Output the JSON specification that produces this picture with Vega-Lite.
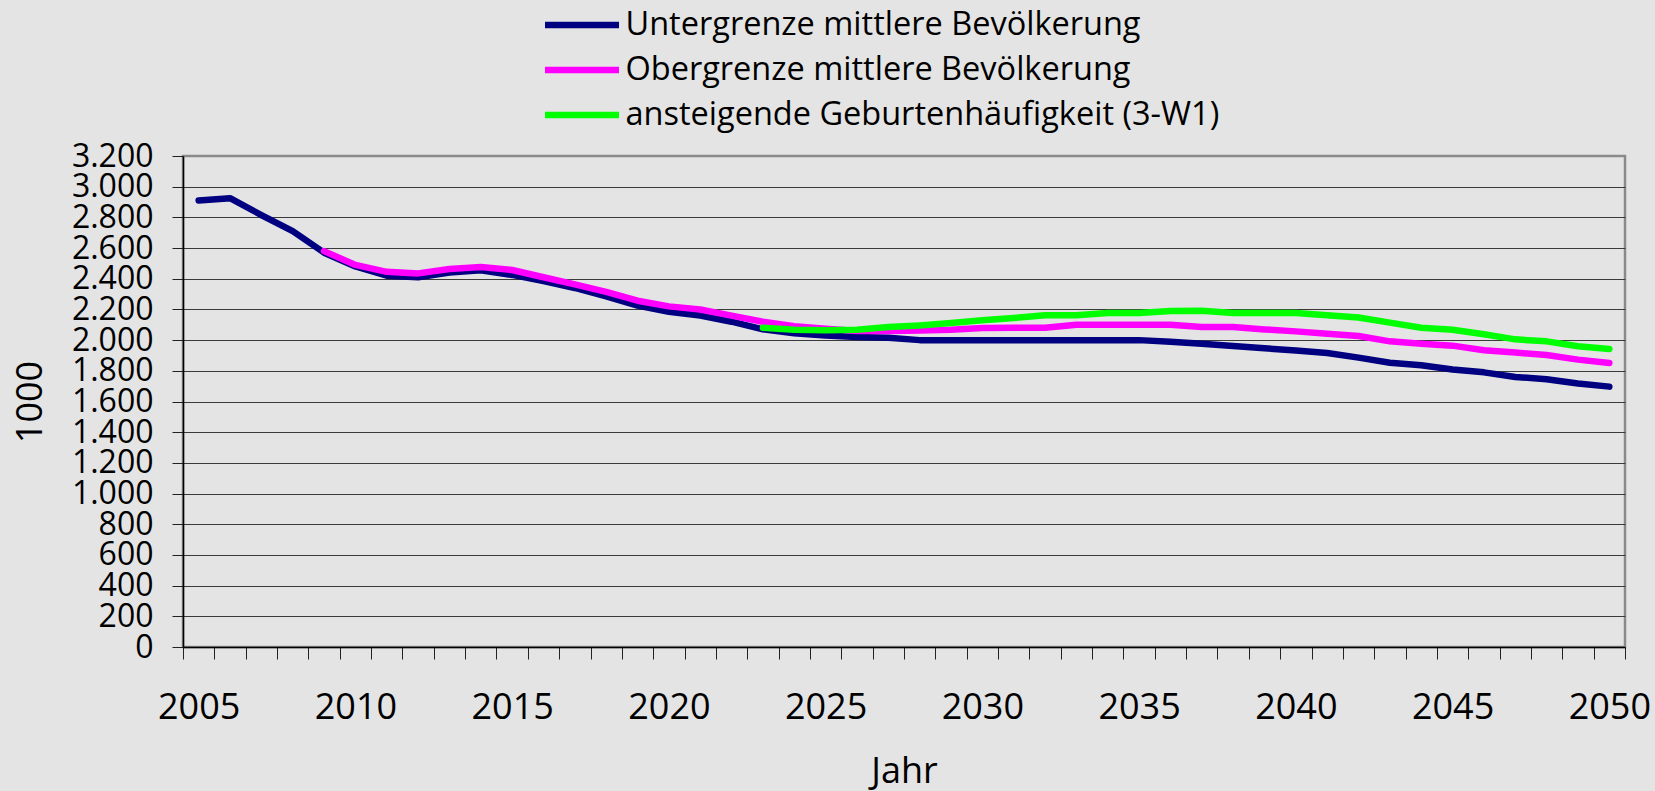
{
  "$schema": "https://vega.github.io/schema/vega-lite/v6.json",
  "width": 1442,
  "height": 491,
  "autosize": {"type": "none"},
  "padding": {"left": 183, "top": 156, "right": 30, "bottom": 144},
  "background": "#e4e4e4",
  "config": {
    "font": "Open Sans",
    "view": {"stroke": "#8a8a8a", "strokeWidth": 2.5},
    "legend": {"padding": 0}
  },
  "data": {
    "values": [
      {"Jahr": 2005, "Wert": 2910, "Reihe": "Untergrenze mittlere Bevölkerung"},
      {"Jahr": 2006, "Wert": 2925, "Reihe": "Untergrenze mittlere Bevölkerung"},
      {"Jahr": 2007, "Wert": 2815, "Reihe": "Untergrenze mittlere Bevölkerung"},
      {"Jahr": 2008, "Wert": 2710, "Reihe": "Untergrenze mittlere Bevölkerung"},
      {"Jahr": 2009, "Wert": 2570, "Reihe": "Untergrenze mittlere Bevölkerung"},
      {"Jahr": 2010, "Wert": 2480, "Reihe": "Untergrenze mittlere Bevölkerung"},
      {"Jahr": 2011, "Wert": 2420, "Reihe": "Untergrenze mittlere Bevölkerung"},
      {"Jahr": 2012, "Wert": 2410, "Reihe": "Untergrenze mittlere Bevölkerung"},
      {"Jahr": 2013, "Wert": 2440, "Reihe": "Untergrenze mittlere Bevölkerung"},
      {"Jahr": 2014, "Wert": 2455, "Reihe": "Untergrenze mittlere Bevölkerung"},
      {"Jahr": 2015, "Wert": 2425, "Reihe": "Untergrenze mittlere Bevölkerung"},
      {"Jahr": 2016, "Wert": 2385, "Reihe": "Untergrenze mittlere Bevölkerung"},
      {"Jahr": 2017, "Wert": 2340, "Reihe": "Untergrenze mittlere Bevölkerung"},
      {"Jahr": 2018, "Wert": 2285, "Reihe": "Untergrenze mittlere Bevölkerung"},
      {"Jahr": 2019, "Wert": 2225, "Reihe": "Untergrenze mittlere Bevölkerung"},
      {"Jahr": 2020, "Wert": 2185, "Reihe": "Untergrenze mittlere Bevölkerung"},
      {"Jahr": 2021, "Wert": 2160, "Reihe": "Untergrenze mittlere Bevölkerung"},
      {"Jahr": 2022, "Wert": 2120, "Reihe": "Untergrenze mittlere Bevölkerung"},
      {"Jahr": 2023, "Wert": 2070, "Reihe": "Untergrenze mittlere Bevölkerung"},
      {"Jahr": 2024, "Wert": 2045, "Reihe": "Untergrenze mittlere Bevölkerung"},
      {"Jahr": 2025, "Wert": 2030, "Reihe": "Untergrenze mittlere Bevölkerung"},
      {"Jahr": 2026, "Wert": 2020, "Reihe": "Untergrenze mittlere Bevölkerung"},
      {"Jahr": 2027, "Wert": 2015, "Reihe": "Untergrenze mittlere Bevölkerung"},
      {"Jahr": 2028, "Wert": 2000, "Reihe": "Untergrenze mittlere Bevölkerung"},
      {"Jahr": 2029, "Wert": 2000, "Reihe": "Untergrenze mittlere Bevölkerung"},
      {"Jahr": 2030, "Wert": 2000, "Reihe": "Untergrenze mittlere Bevölkerung"},
      {"Jahr": 2031, "Wert": 2000, "Reihe": "Untergrenze mittlere Bevölkerung"},
      {"Jahr": 2032, "Wert": 2000, "Reihe": "Untergrenze mittlere Bevölkerung"},
      {"Jahr": 2033, "Wert": 2000, "Reihe": "Untergrenze mittlere Bevölkerung"},
      {"Jahr": 2034, "Wert": 2000, "Reihe": "Untergrenze mittlere Bevölkerung"},
      {"Jahr": 2035, "Wert": 2000, "Reihe": "Untergrenze mittlere Bevölkerung"},
      {"Jahr": 2036, "Wert": 1990, "Reihe": "Untergrenze mittlere Bevölkerung"},
      {"Jahr": 2037, "Wert": 1977, "Reihe": "Untergrenze mittlere Bevölkerung"},
      {"Jahr": 2038, "Wert": 1962, "Reihe": "Untergrenze mittlere Bevölkerung"},
      {"Jahr": 2039, "Wert": 1947, "Reihe": "Untergrenze mittlere Bevölkerung"},
      {"Jahr": 2040, "Wert": 1932, "Reihe": "Untergrenze mittlere Bevölkerung"},
      {"Jahr": 2041, "Wert": 1916, "Reihe": "Untergrenze mittlere Bevölkerung"},
      {"Jahr": 2042, "Wert": 1886, "Reihe": "Untergrenze mittlere Bevölkerung"},
      {"Jahr": 2043, "Wert": 1853, "Reihe": "Untergrenze mittlere Bevölkerung"},
      {"Jahr": 2044, "Wert": 1836, "Reihe": "Untergrenze mittlere Bevölkerung"},
      {"Jahr": 2045, "Wert": 1808, "Reihe": "Untergrenze mittlere Bevölkerung"},
      {"Jahr": 2046, "Wert": 1790, "Reihe": "Untergrenze mittlere Bevölkerung"},
      {"Jahr": 2047, "Wert": 1760, "Reihe": "Untergrenze mittlere Bevölkerung"},
      {"Jahr": 2048, "Wert": 1745, "Reihe": "Untergrenze mittlere Bevölkerung"},
      {"Jahr": 2049, "Wert": 1717, "Reihe": "Untergrenze mittlere Bevölkerung"},
      {"Jahr": 2050, "Wert": 1697, "Reihe": "Untergrenze mittlere Bevölkerung"},
      {"Jahr": 2009, "Wert": 2580, "Reihe": "Obergrenze mittlere Bevölkerung"},
      {"Jahr": 2010, "Wert": 2490, "Reihe": "Obergrenze mittlere Bevölkerung"},
      {"Jahr": 2011, "Wert": 2445, "Reihe": "Obergrenze mittlere Bevölkerung"},
      {"Jahr": 2012, "Wert": 2435, "Reihe": "Obergrenze mittlere Bevölkerung"},
      {"Jahr": 2013, "Wert": 2463, "Reihe": "Obergrenze mittlere Bevölkerung"},
      {"Jahr": 2014, "Wert": 2476, "Reihe": "Obergrenze mittlere Bevölkerung"},
      {"Jahr": 2015, "Wert": 2457, "Reihe": "Obergrenze mittlere Bevölkerung"},
      {"Jahr": 2016, "Wert": 2410, "Reihe": "Obergrenze mittlere Bevölkerung"},
      {"Jahr": 2017, "Wert": 2363, "Reihe": "Obergrenze mittlere Bevölkerung"},
      {"Jahr": 2018, "Wert": 2315, "Reihe": "Obergrenze mittlere Bevölkerung"},
      {"Jahr": 2019, "Wert": 2257, "Reihe": "Obergrenze mittlere Bevölkerung"},
      {"Jahr": 2020, "Wert": 2220, "Reihe": "Obergrenze mittlere Bevölkerung"},
      {"Jahr": 2021, "Wert": 2200, "Reihe": "Obergrenze mittlere Bevölkerung"},
      {"Jahr": 2022, "Wert": 2160, "Reihe": "Obergrenze mittlere Bevölkerung"},
      {"Jahr": 2023, "Wert": 2120, "Reihe": "Obergrenze mittlere Bevölkerung"},
      {"Jahr": 2024, "Wert": 2090, "Reihe": "Obergrenze mittlere Bevölkerung"},
      {"Jahr": 2025, "Wert": 2075, "Reihe": "Obergrenze mittlere Bevölkerung"},
      {"Jahr": 2026, "Wert": 2060, "Reihe": "Obergrenze mittlere Bevölkerung"},
      {"Jahr": 2027, "Wert": 2060, "Reihe": "Obergrenze mittlere Bevölkerung"},
      {"Jahr": 2028, "Wert": 2062, "Reihe": "Obergrenze mittlere Bevölkerung"},
      {"Jahr": 2029, "Wert": 2068, "Reihe": "Obergrenze mittlere Bevölkerung"},
      {"Jahr": 2030, "Wert": 2079, "Reihe": "Obergrenze mittlere Bevölkerung"},
      {"Jahr": 2031, "Wert": 2081, "Reihe": "Obergrenze mittlere Bevölkerung"},
      {"Jahr": 2032, "Wert": 2081, "Reihe": "Obergrenze mittlere Bevölkerung"},
      {"Jahr": 2033, "Wert": 2100, "Reihe": "Obergrenze mittlere Bevölkerung"},
      {"Jahr": 2034, "Wert": 2100, "Reihe": "Obergrenze mittlere Bevölkerung"},
      {"Jahr": 2035, "Wert": 2100, "Reihe": "Obergrenze mittlere Bevölkerung"},
      {"Jahr": 2036, "Wert": 2100, "Reihe": "Obergrenze mittlere Bevölkerung"},
      {"Jahr": 2037, "Wert": 2085, "Reihe": "Obergrenze mittlere Bevölkerung"},
      {"Jahr": 2038, "Wert": 2085, "Reihe": "Obergrenze mittlere Bevölkerung"},
      {"Jahr": 2039, "Wert": 2070, "Reihe": "Obergrenze mittlere Bevölkerung"},
      {"Jahr": 2040, "Wert": 2057, "Reihe": "Obergrenze mittlere Bevölkerung"},
      {"Jahr": 2041, "Wert": 2042, "Reihe": "Obergrenze mittlere Bevölkerung"},
      {"Jahr": 2042, "Wert": 2027, "Reihe": "Obergrenze mittlere Bevölkerung"},
      {"Jahr": 2043, "Wert": 1992, "Reihe": "Obergrenze mittlere Bevölkerung"},
      {"Jahr": 2044, "Wert": 1977, "Reihe": "Obergrenze mittlere Bevölkerung"},
      {"Jahr": 2045, "Wert": 1964, "Reihe": "Obergrenze mittlere Bevölkerung"},
      {"Jahr": 2046, "Wert": 1934, "Reihe": "Obergrenze mittlere Bevölkerung"},
      {"Jahr": 2047, "Wert": 1919, "Reihe": "Obergrenze mittlere Bevölkerung"},
      {"Jahr": 2048, "Wert": 1903, "Reihe": "Obergrenze mittlere Bevölkerung"},
      {"Jahr": 2049, "Wert": 1873, "Reihe": "Obergrenze mittlere Bevölkerung"},
      {"Jahr": 2050, "Wert": 1851, "Reihe": "Obergrenze mittlere Bevölkerung"},
      {"Jahr": 2023, "Wert": 2080, "Reihe": "ansteigende Geburtenhäufigkeit (3-W1)"},
      {"Jahr": 2024, "Wert": 2068, "Reihe": "ansteigende Geburtenhäufigkeit (3-W1)"},
      {"Jahr": 2025, "Wert": 2065, "Reihe": "ansteigende Geburtenhäufigkeit (3-W1)"},
      {"Jahr": 2026, "Wert": 2068, "Reihe": "ansteigende Geburtenhäufigkeit (3-W1)"},
      {"Jahr": 2027, "Wert": 2085, "Reihe": "ansteigende Geburtenhäufigkeit (3-W1)"},
      {"Jahr": 2028, "Wert": 2096, "Reihe": "ansteigende Geburtenhäufigkeit (3-W1)"},
      {"Jahr": 2029, "Wert": 2111, "Reihe": "ansteigende Geburtenhäufigkeit (3-W1)"},
      {"Jahr": 2030, "Wert": 2129, "Reihe": "ansteigende Geburtenhäufigkeit (3-W1)"},
      {"Jahr": 2031, "Wert": 2144, "Reihe": "ansteigende Geburtenhäufigkeit (3-W1)"},
      {"Jahr": 2032, "Wert": 2162, "Reihe": "ansteigende Geburtenhäufigkeit (3-W1)"},
      {"Jahr": 2033, "Wert": 2162, "Reihe": "ansteigende Geburtenhäufigkeit (3-W1)"},
      {"Jahr": 2034, "Wert": 2177, "Reihe": "ansteigende Geburtenhäufigkeit (3-W1)"},
      {"Jahr": 2035, "Wert": 2177, "Reihe": "ansteigende Geburtenhäufigkeit (3-W1)"},
      {"Jahr": 2036, "Wert": 2190, "Reihe": "ansteigende Geburtenhäufigkeit (3-W1)"},
      {"Jahr": 2037, "Wert": 2192, "Reihe": "ansteigende Geburtenhäufigkeit (3-W1)"},
      {"Jahr": 2038, "Wert": 2177, "Reihe": "ansteigende Geburtenhäufigkeit (3-W1)"},
      {"Jahr": 2039, "Wert": 2177, "Reihe": "ansteigende Geburtenhäufigkeit (3-W1)"},
      {"Jahr": 2040, "Wert": 2177, "Reihe": "ansteigende Geburtenhäufigkeit (3-W1)"},
      {"Jahr": 2041, "Wert": 2162, "Reihe": "ansteigende Geburtenhäufigkeit (3-W1)"},
      {"Jahr": 2042, "Wert": 2147, "Reihe": "ansteigende Geburtenhäufigkeit (3-W1)"},
      {"Jahr": 2043, "Wert": 2114, "Reihe": "ansteigende Geburtenhäufigkeit (3-W1)"},
      {"Jahr": 2044, "Wert": 2081, "Reihe": "ansteigende Geburtenhäufigkeit (3-W1)"},
      {"Jahr": 2045, "Wert": 2068, "Reihe": "ansteigende Geburtenhäufigkeit (3-W1)"},
      {"Jahr": 2046, "Wert": 2038, "Reihe": "ansteigende Geburtenhäufigkeit (3-W1)"},
      {"Jahr": 2047, "Wert": 2005, "Reihe": "ansteigende Geburtenhäufigkeit (3-W1)"},
      {"Jahr": 2048, "Wert": 1992, "Reihe": "ansteigende Geburtenhäufigkeit (3-W1)"},
      {"Jahr": 2049, "Wert": 1960, "Reihe": "ansteigende Geburtenhäufigkeit (3-W1)"},
      {"Jahr": 2050, "Wert": 1942, "Reihe": "ansteigende Geburtenhäufigkeit (3-W1)"}
    ]
  },
  "encoding": {
    "x": {
      "field": "Jahr",
      "type": "quantitative",
      "scale": {"domain": [2004.5, 2050.5], "nice": false, "zero": false},
      "axis": {
        "title": "Jahr",
        "grid": false,
        "values": [2004.5, 2005.5, 2006.5, 2007.5, 2008.5, 2009.5, 2010.5, 2011.5, 2012.5, 2013.5, 2014.5, 2015.5, 2016.5, 2017.5, 2018.5, 2019.5, 2020.5, 2021.5, 2022.5, 2023.5, 2024.5, 2025.5, 2026.5, 2027.5, 2028.5, 2029.5, 2030.5, 2031.5, 2032.5, 2033.5, 2034.5, 2035.5, 2036.5, 2037.5, 2038.5, 2039.5, 2040.5, 2041.5, 2042.5, 2043.5, 2044.5, 2045.5, 2046.5, 2047.5, 2048.5, 2049.5, 2050.5],
        "labelExpr": "(datum.value + 0.5) % 5 === 0 ? toString(datum.value + 0.5) : ''",
        "labelOffset": 15.67,
        "labelOverlap": false,
        "labelFlush": false,
        "labelFontSize": 36,
        "labelColor": "#000000",
        "labelPadding": 31,
        "labelBaseline": "top",
        "tickSize": 12,
        "tickColor": "#222222",
        "tickWidth": 1,
        "domainColor": "#000000",
        "domainWidth": 1.5,
        "titleFontSize": 36,
        "titleFontWeight": "normal",
        "titleColor": "#000000",
        "titleBaseline": "alphabetic",
        "titleX": 721,
        "titleY": 135
      }
    },
    "y": {
      "field": "Wert",
      "type": "quantitative",
      "scale": {"domain": [0, 3200], "nice": false},
      "axis": {
        "title": "1000",
        "values": [0, 200, 400, 600, 800, 1000, 1200, 1400, 1600, 1800, 2000, 2200, 2400, 2600, 2800, 3000, 3200],
        "labelExpr": "replace(format(datum.value, ','), ',', '.')",
        "labelOverlap": false,
        "labelFlush": false,
        "labelFontSize": 32,
        "labelColor": "#000000",
        "labelPadding": 19,
        "tickSize": 11,
        "tickColor": "#222222",
        "tickWidth": 1,
        "domainColor": "#000000",
        "domainWidth": 1.5,
        "grid": true,
        "gridColor": {"condition": {"test": "datum.value === 3200", "value": "#8a8a8a"}, "value": "#3a3a3a"},
        "gridWidth": 1.2,
        "titleFontSize": 36,
        "titleFontWeight": "normal",
        "titleColor": "#000000",
        "titleAngle": -90,
        "titleBaseline": "middle",
        "titleX": -152.7,
        "titleY": 245.5
      }
    },
    "color": {
      "field": "Reihe",
      "type": "nominal",
      "scale": {
        "domain": ["Untergrenze mittlere Bevölkerung", "Obergrenze mittlere Bevölkerung", "ansteigende Geburtenhäufigkeit (3-W1)"],
        "range": ["#000080", "#ff00ff", "#00ff00"]
      },
      "legend": {
        "title": null,
        "orient": "none",
        "legendX": 358.5,
        "legendY": -153.5,
        "direction": "vertical",
        "symbolType": "stroke",
        "symbolSize": 5476,
        "symbolStrokeWidth": 6.5,
        "labelFontSize": 32.5,
        "labelColor": "#000000",
        "labelOffset": 3,
        "labelLimit": 1000,
        "clipHeight": 45,
        "rowPadding": 0
      }
    }
  },
  "layer": [
    {
      "transform": [{"filter": {"field": "Reihe", "equal": "Untergrenze mittlere Bevölkerung"}}],
      "mark": {"type": "line", "strokeWidth": 6.5, "strokeCap": "round", "strokeJoin": "round", "clip": false}
    },
    {
      "transform": [{"filter": {"field": "Reihe", "equal": "Obergrenze mittlere Bevölkerung"}}],
      "mark": {"type": "line", "strokeWidth": 6.5, "strokeCap": "round", "strokeJoin": "round", "clip": false}
    },
    {
      "transform": [{"filter": {"field": "Reihe", "equal": "ansteigende Geburtenhäufigkeit (3-W1)"}}],
      "mark": {"type": "line", "strokeWidth": 6.5, "strokeCap": "round", "strokeJoin": "round", "clip": false}
    }
  ]
}
